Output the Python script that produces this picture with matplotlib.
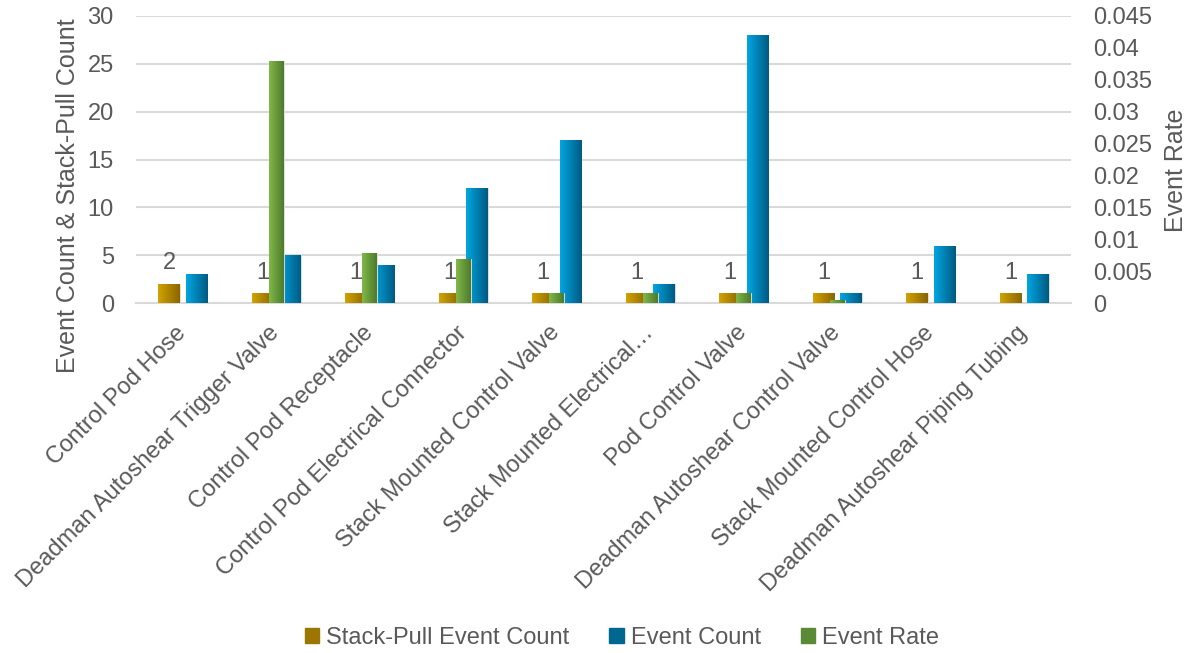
import matplotlib.pyplot as plt
import numpy as np
from matplotlib.colors import LinearSegmentedColormap
from matplotlib.patches import Patch
from matplotlib.ticker import FuncFormatter

plt.rcParams['font.family'] = ['Liberation Sans', 'DejaVu Sans']

# data
categories = ['Control Pod Hose', 'Deadman Autoshear Trigger Valve', 'Control Pod Receptacle',
              'Control Pod Electrical Connector', 'Stack Mounted Control Valve',
              'Stack Mounted Electrical…', 'Pod Control Valve', 'Deadman Autoshear Control Valve',
              'Stack Mounted Control Hose', 'Deadman Autoshear Piping Tubing']
stack_pull = [2, 1, 1, 1, 1, 1, 1, 1, 1, 1]
event_count = [3, 5, 4, 12, 17, 2, 28, 1, 6, 3]
event_rate = [0, 0.038, 0.0078, 0.0069, 0.0016, 0.0016, 0.0016, 0.0005, 0, 0]

txt = '#595959'
grid_c = '#D9D9D9'


def shade(ax, bars, light, dark):
    # horizontal gradient inside each bar
    cmap = LinearSegmentedColormap.from_list('g', [light, dark])
    grad = np.linspace(0, 1, 64).reshape(1, -1)
    for b in bars:
        h = b.get_height()
        if h <= 0:
            continue
        x0, w = b.get_x(), b.get_width()
        b.set_facecolor(dark)
        im = ax.imshow(grad, cmap=cmap, aspect='auto', extent=[x0, x0 + w, 0, h],
                       zorder=b.get_zorder() + 0.01, interpolation='bicubic')
        im.set_clip_path(b)
        b.set_edgecolor('#E8E8E8')
        b.set_linewidth(0.6)


fig = plt.figure(figsize=(11.86, 6.53), dpi=100)
ax = fig.add_axes([136 / 1186, 1 - 303 / 653, 935 / 1186, 287 / 653])
ax2 = ax.twinx()

x = np.arange(len(categories))
w = 0.23
b1 = ax.bar(x - 0.145, stack_pull, w, color='#9C7600', zorder=3)
b2 = ax.bar(x + 0.145, event_count, w, color='#006890', zorder=3)
b3 = ax2.bar(x, event_rate, 0.16, color='#5A8A35', zorder=3)

shade(ax, b1, '#D2A300', '#8A6600')
shade(ax, b2, '#00A6E2', '#005A82')
shade(ax2, b3, '#80B848', '#4E7A2C')

for b, v in zip(b1, stack_pull):
    ax.annotate(str(v), (b.get_x() + b.get_width() / 2, b.get_height()),
                xytext=(0, 7), textcoords='offset points', ha='center', va='bottom',
                fontsize=17, color=txt, zorder=5)

ax.set_xlim(-0.5, len(categories) - 0.5)
ax.set_ylim(0, 30)
ax.set_yticks(range(0, 31, 5))
ax2.set_ylim(0, 0.045)
ax2.set_yticks(np.arange(0, 0.0451, 0.005))
ax2.yaxis.set_major_formatter(FuncFormatter(lambda v, p: '%g' % round(v, 4)))

ax.set_xticks(x)
ax.set_xticklabels(categories, rotation=45, ha='right', va='center', rotation_mode='anchor',
                   fontsize=17, color=txt)
ax.tick_params(axis='x', length=0, pad=19)
ax.tick_params(axis='y', length=0, pad=16, labelsize=17, labelcolor=txt)
ax2.tick_params(axis='y', length=0, pad=16, labelsize=17, labelcolor=txt)

ax.grid(axis='y', color=grid_c, linewidth=1.5, zorder=0)
ax.set_axisbelow(True)
for a in (ax, ax2):
    for s in a.spines.values():
        s.set_visible(False)
ax.spines['bottom'].set_visible(True)
ax.spines['bottom'].set_color(grid_c)
ax.spines['bottom'].set_linewidth(1.5)

ax.set_ylabel('Event Count & Stack-Pull Count', fontsize=18, color=txt, va='center', ha='center')
ax.yaxis.set_label_coords(-0.0725, 0.373)
ax2.set_ylabel('Event Rate', fontsize=18, color=txt, va='center', ha='center', rotation=90)
ax2.yaxis.set_label_coords(1.112, 0.463)

handles = [Patch(color='#9C7600', label='Stack-Pull Event Count'),
           Patch(color='#006890', label='Event Count'),
           Patch(color='#5A8A35', label='Event Rate')]
fig.legend(handles=handles, loc='center', bbox_to_anchor=(622 / 1186, 15 / 653), ncol=3,
           frameon=False, fontsize=17, labelcolor=txt, handlelength=0.6, handleheight=0.6,
           handletextpad=0.3, columnspacing=1.7)

fig.savefig('out.png', dpi=100)
